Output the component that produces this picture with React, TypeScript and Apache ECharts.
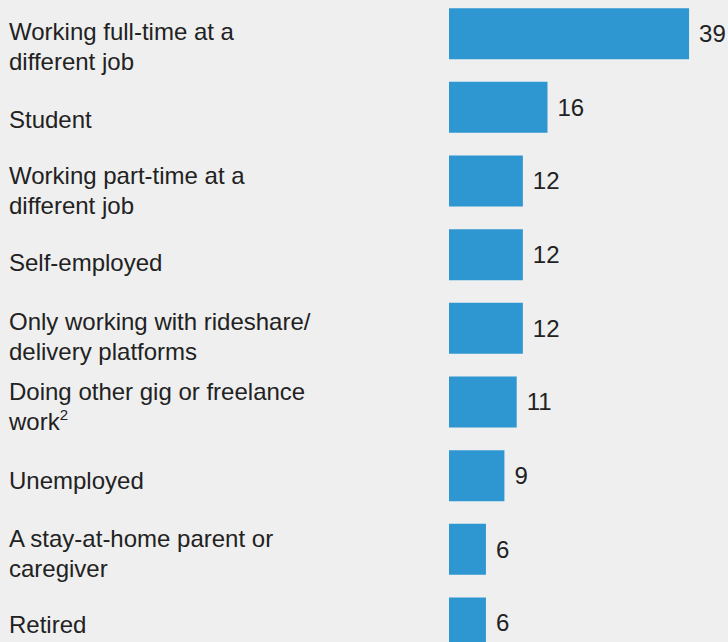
import React, { useEffect, useRef } from "react";
import * as echarts from "echarts";

const categories = [
  "Working full-time at a\ndifferent job",
  "Student",
  "Working part-time at a\ndifferent job",
  "Self-employed",
  "Only working with rideshare/\ndelivery platforms",
  "Doing other gig or freelance\nwork{sup|2}",
  "Unemployed",
  "A stay-at-home parent or\ncaregiver",
  "Retired",
];
const values = [39, 16, 12, 12, 12, 11, 9, 6, 6];
// per-label vertical nudges (style only)
const labelShift = [13, 12, 10, 8, 8, 5, 5, 4, 2];

const FONT = "Liberation Sans";
const TEXT = "#222222";

export default function App() {
  const ref = useRef<HTMLDivElement>(null);
  useEffect(() => {
    if (!ref.current) return;
    const chart = echarts.init(ref.current, null, { renderer: "svg" });
    chart.setOption({
      animation: false,
      backgroundColor: "#efefef",
      grid: {
        left: 449,
        right: 2,
        top: -3.2,
        bottom: -17.8,
        containLabel: false,
        outerBoundsMode: "none",
      },
      xAxis: {
        type: "value",
        min: 0,
        max: 45,
        show: false,
      },
      yAxis: {
        type: "category",
        inverse: true,
        data: categories.map((c, i) => ({
          value: c,
          textStyle: { align: "left", padding: [labelShift[i] * 2, 0, 0, 0] },
        })),
        axisLine: { show: false },
        axisTick: { show: false },
        splitLine: { show: false },
        axisLabel: {
          align: "left",
          margin: 440,
          fontFamily: FONT,
          fontSize: 24,
          lineHeight: 30,
          color: TEXT,
          rich: {
            sup: { fontSize: 15, verticalAlign: "top", padding: [0, 0, 10, 0], fontFamily: FONT, color: TEXT, lineHeight: 30 },
          },
        },
      },
      series: [
        {
          type: "bar",
          data: values,
          barWidth: 51,
          itemStyle: { color: "#2e96d0" },
          label: {
            show: true,
            position: "right",
            distance: 10,
            fontFamily: FONT,
            fontSize: 24,
            color: TEXT,
          },
        },
      ],
    });
    return () => chart.dispose();
  }, []);
  return (
    <div
      ref={ref}
      style={{ position: "absolute", left: 0, top: 0, width: 728, height: 642 }}
    />
  );
}
